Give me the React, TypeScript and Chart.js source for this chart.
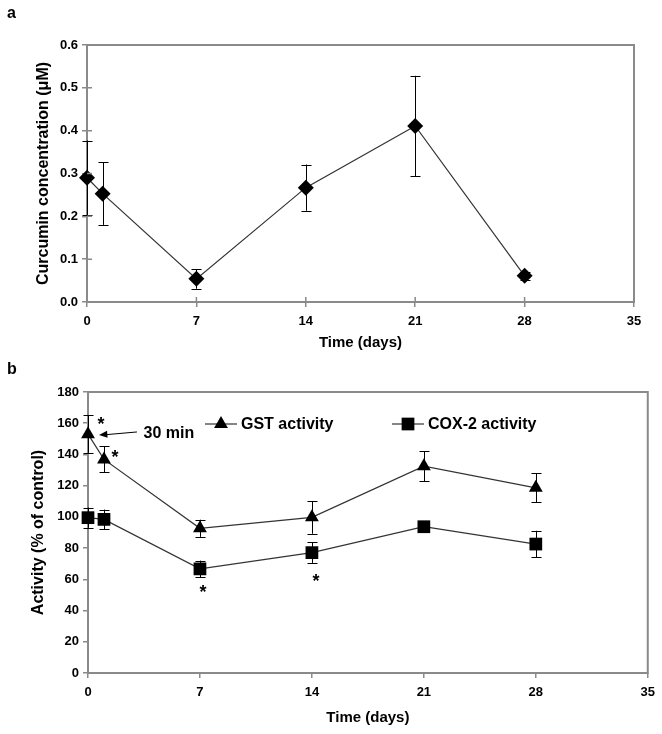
import React, { useEffect, useRef } from 'react';
import { Chart, registerables } from 'chart.js';
import { drawPoint } from 'chart.js/helpers';

Chart.register(...registerables);

// ---------- data ----------
const xTickValues = [0, 7, 14, 21, 28, 35];
const days = [0, 1, 7, 14, 21, 28];

const curcumin = [0.29, 0.253, 0.054, 0.267, 0.411, 0.061];
const curcuminErr = [0.087, 0.073, 0.023, 0.054, 0.117, 0.01];

const gstActivity = [153, 136.8, 92.7, 99.7, 132.5, 118.6];
const gstErr = [12, 8.3, 5.5, 10.5, 9.7, 9.3];
const coxActivity = [99.5, 98.4, 66.7, 77.1, 93.7, 82.6];
const coxErr = [6.5, 6.3, 5.3, 6.6, 1.5, 8.5];

const asteriskX = [0.81, 1.69, 7.19, 14.25];
const asteriskY = [160.8, 139.6, 53.2, 60.2];

const noteText = '30 min';
const noteX = 3.47;
const noteY = 153.1;
const arrowFrom = [3.06, 154.4];
const arrowTo = [0.69, 152.5];

const legendLabels = ['GST activity', 'COX-2 activity'];

// ---------- styles ----------
const FONT = "'Liberation Sans', Arial, sans-serif";
const AXIS_GREY = '#8a8a8a';
const tickFont = { family: FONT, size: 13, weight: 'bold' as const };
const titleFont = { family: FONT, size: 15, weight: 'bold' as const };
const yTitleFont = { family: FONT, size: 16, weight: 'bold' as const };

const errorBarsPlugin = {
  id: 'errorBars',
  beforeDatasetsDraw(chart: any) {
    const { ctx, chartArea } = chart;
    ctx.save();
    ctx.strokeStyle = AXIS_GREY;
    ctx.lineWidth = 2;
    ctx.strokeRect(chartArea.left, chartArea.top, chartArea.right - chartArea.left, chartArea.bottom - chartArea.top);
    ctx.restore();

    const yScale = chart.scales.y;
    chart.data.datasets.forEach((ds: any, i: number) => {
      const errs = ds.errors;
      if (!errs) return;
      const meta = chart.getDatasetMeta(i);
      ctx.save();
      ctx.strokeStyle = '#000';
      ctx.lineWidth = 1;
      meta.data.forEach((pt: any, j: number) => {
        const v = ds.data[j].y;
        const e = errs[j];
        const yt = yScale.getPixelForValue(v + e);
        const yb = yScale.getPixelForValue(v - e);
        const x = Math.round(pt.x) + 0.5;
        ctx.beginPath();
        ctx.moveTo(x, yt);
        ctx.lineTo(x, yb);
        ctx.moveTo(x - 5, Math.round(yt) + 0.5);
        ctx.lineTo(x + 5, Math.round(yt) + 0.5);
        ctx.moveTo(x - 5, Math.round(yb) + 0.5);
        ctx.lineTo(x + 5, Math.round(yb) + 0.5);
        ctx.stroke();
      });
      ctx.restore();
    });
  },
};

function panelLabelPlugin(label: string, x: number, y: number) {
  return {
    id: 'panelLabel' + label,
    afterDraw(chart: any) {
      const { ctx } = chart;
      ctx.save();
      ctx.fillStyle = '#000';
      ctx.font = `bold 16px ${FONT}`;
      ctx.textBaseline = 'alphabetic';
      ctx.fillText(label, x, y);
      ctx.restore();
    },
  };
}

const innerTicksPlugin = {
  id: 'innerTicks',
  afterDatasetsDraw(chart: any) {
    const { ctx, chartArea, scales } = chart;
    ctx.save();
    ctx.strokeStyle = AXIS_GREY;
    ctx.lineWidth = 1.5;
    ctx.beginPath();
    scales.x.ticks.forEach((t: any) => {
      const px = scales.x.getPixelForValue(t.value);
      ctx.moveTo(px, chartArea.bottom);
      ctx.lineTo(px, chartArea.bottom - 5);
    });
    scales.y.ticks.forEach((t: any) => {
      const py = scales.y.getPixelForValue(t.value);
      ctx.moveTo(chartArea.left, py);
      ctx.lineTo(chartArea.left + 5, py);
    });
    ctx.stroke();
    ctx.restore();
  },
};

const annotationsPlugin = {
  id: 'annotationsB',
  afterDatasetsDraw(chart: any) {
    const { ctx, chartArea, scales } = chart;
    const xs = scales.x;
    const ys = scales.y;
    ctx.save();
    ctx.fillStyle = '#000';
    ctx.strokeStyle = '#000';
    ctx.font = `bold 18px ${FONT}`;
    ctx.textAlign = 'center';
    ctx.textBaseline = 'middle';
    asteriskX.forEach((x, i) => {
      ctx.fillText('*', xs.getPixelForValue(x), ys.getPixelForValue(asteriskY[i]) + 3);
    });
    ctx.font = `bold 16px ${FONT}`;
    ctx.textAlign = 'left';
    ctx.fillText(noteText, xs.getPixelForValue(noteX), ys.getPixelForValue(noteY));
    const x1 = xs.getPixelForValue(arrowFrom[0]);
    const y1 = ys.getPixelForValue(arrowFrom[1]);
    const x2 = xs.getPixelForValue(arrowTo[0]);
    const y2 = ys.getPixelForValue(arrowTo[1]);
    ctx.lineWidth = 1;
    ctx.beginPath();
    ctx.moveTo(x1, y1);
    ctx.lineTo(x2 + 4, y2);
    ctx.stroke();
    const ang = Math.atan2(y2 - y1, x2 - x1);
    ctx.beginPath();
    ctx.moveTo(x2, y2);
    ctx.lineTo(x2 - 9 * Math.cos(ang - 0.4), y2 - 9 * Math.sin(ang - 0.4));
    ctx.lineTo(x2 - 9 * Math.cos(ang + 0.4), y2 - 9 * Math.sin(ang + 0.4));
    ctx.closePath();
    ctx.fill();

    const ly = chartArea.top + 32;
    const items = [
      { x0: chartArea.left + 117, style: 'triangle', r: 8, label: legendLabels[0] },
      { x0: chartArea.left + 304, style: 'rect', r: 9, label: legendLabels[1] },
    ];
    items.forEach((it) => {
      ctx.strokeStyle = '#333';
      ctx.lineWidth = 1.2;
      ctx.beginPath();
      ctx.moveTo(it.x0, ly);
      ctx.lineTo(it.x0 + 32, ly);
      ctx.stroke();
      ctx.fillStyle = '#000';
      drawPoint(ctx, { pointStyle: it.style as any, radius: it.r, rotation: 0, borderWidth: 0 } as any, it.x0 + 16, ly);
      ctx.fillStyle = '#000';
      ctx.font = `bold 16px ${FONT}`;
      ctx.textAlign = 'left';
      ctx.textBaseline = 'middle';
      ctx.fillText(it.label, it.x0 + 36, ly + 1);
    });
    ctx.restore();
  },
};

function makeXScale(height: number, titlePadBottom: number) {
  return {
    type: 'linear' as const,
    min: 0,
    max: 35,
    afterBuildTicks: (s: any) => {
      s.ticks = xTickValues.map((v) => ({ value: v }));
    },
    grid: { drawOnChartArea: false, drawTicks: true, tickLength: 5, color: AXIS_GREY, lineWidth: 1.5 },
    border: { display: false },
    ticks: { font: tickFont, color: '#000', padding: 7, maxRotation: 0, autoSkip: false },
    title: { display: true, text: 'Time (days)', font: titleFont, color: '#000', padding: { top: 0, bottom: titlePadBottom } },
    afterFit: (s: any) => {
      s.height = height;
    },
  };
}

function PanelA() {
  const ref = useRef<HTMLCanvasElement>(null);
  useEffect(() => {
    const chart = new Chart(ref.current!, {
      type: 'line',
      data: {
        datasets: [
          {
            data: days.map((d, i) => ({ x: d, y: curcumin[i] })),
            errors: curcuminErr,
            borderColor: '#333',
            borderWidth: 1.2,
            pointStyle: 'rectRot',
            pointRadius: 8,
            pointBackgroundColor: '#000',
            pointBorderColor: '#000',
            pointBorderWidth: 0,
            clip: false,
          } as any,
        ],
      },
      options: {
        responsive: false,
        animation: false,
        layout: { padding: { top: 45, right: 28, left: 0, bottom: 0 } },
        plugins: { legend: { display: false }, tooltip: { enabled: false } },
        scales: {
          x: makeXScale(58, 8) as any,
          y: {
            type: 'linear',
            min: 0,
            max: 0.6,
            ticks: { stepSize: 0.1, font: tickFont, color: '#000', padding: 4, callback: (v: any) => Number(v).toFixed(1) },
            grid: { drawOnChartArea: false, drawTicks: true, tickLength: 5, color: AXIS_GREY, lineWidth: 1.5 },
            border: { display: false },
            title: { display: true, text: 'Curcumin concentration (μM)', font: yTitleFont, color: '#000', padding: { top: 34, bottom: 0 } },
            afterFit: (s: any) => {
              s.width = 87;
            },
          },
        },
      },
      plugins: [errorBarsPlugin, innerTicksPlugin, panelLabelPlugin('a', 7, 18)],
    });
    return () => chart.destroy();
  }, []);
  return <canvas ref={ref} width={662} height={360} style={{ position: 'absolute', left: 0, top: 0 }} />;
}

function PanelB() {
  const ref = useRef<HTMLCanvasElement>(null);
  useEffect(() => {
    const chart = new Chart(ref.current!, {
      type: 'line',
      data: {
        datasets: [
          {
            label: legendLabels[0],
            data: days.map((d, i) => ({ x: d, y: gstActivity[i] })),
            errors: gstErr,
            borderColor: '#333',
            borderWidth: 1.2,
            pointStyle: 'triangle',
            pointRadius: 8,
            pointBackgroundColor: '#000',
            pointBorderColor: '#000',
            pointBorderWidth: 0,
            clip: false,
          } as any,
          {
            label: legendLabels[1],
            data: days.map((d, i) => ({ x: d, y: coxActivity[i] })),
            errors: coxErr,
            borderColor: '#333',
            borderWidth: 1.2,
            pointStyle: 'rect',
            pointRadius: 9,
            pointBackgroundColor: '#000',
            pointBorderColor: '#000',
            pointBorderWidth: 0,
            clip: false,
          } as any,
        ],
      },
      options: {
        responsive: false,
        animation: false,
        layout: { padding: { top: 32, right: 14, left: 0, bottom: 0 } },
        plugins: { legend: { display: false }, tooltip: { enabled: false } },
        scales: {
          x: makeXScale(61, 7) as any,
          y: {
            type: 'linear',
            min: 0,
            max: 180,
            ticks: { stepSize: 20, font: tickFont, color: '#000', padding: 4 },
            grid: { drawOnChartArea: false, drawTicks: true, tickLength: 5, color: AXIS_GREY, lineWidth: 1.5 },
            border: { display: false },
            title: { display: true, text: 'Activity (% of control)', font: yTitleFont, color: '#000', padding: { top: 29, bottom: 0 } },
            afterFit: (s: any) => {
              s.width = 88;
            },
          },
        },
      },
      plugins: [errorBarsPlugin, annotationsPlugin, panelLabelPlugin('b', 7, 14)],
    });
    return () => chart.destroy();
  }, []);
  return <canvas ref={ref} width={662} height={374} style={{ position: 'absolute', left: 0, top: 360 }} />;
}

export default function App() {
  return (
    <div style={{ position: 'absolute', left: 0, top: 0, width: 662, height: 734, background: '#fff', overflow: 'hidden' }}>
      <PanelA />
      <PanelB />
    </div>
  );
}
